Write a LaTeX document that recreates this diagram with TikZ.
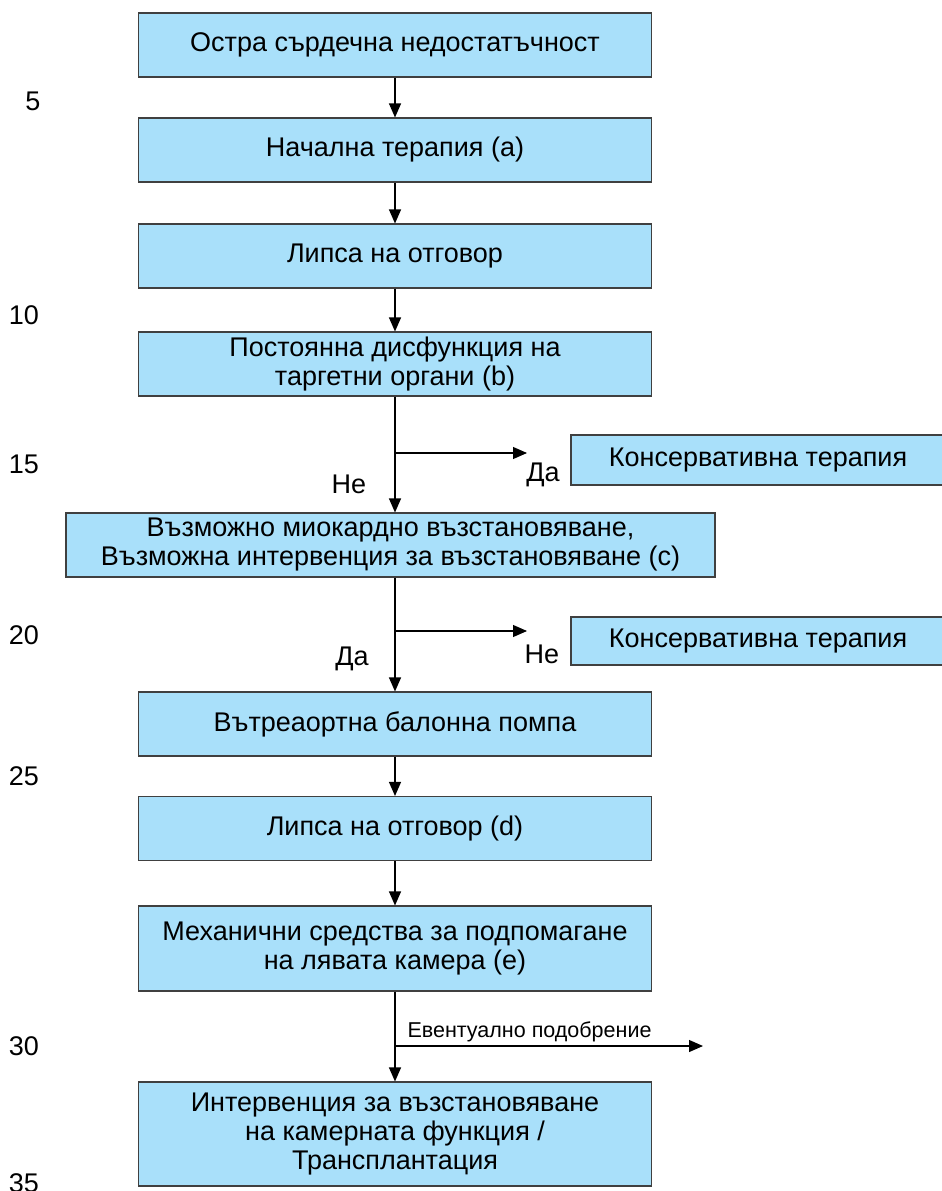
\documentclass[tikz,border=0pt]{standalone}
\usepackage{fontspec}
\setmainfont{Liberation Sans}
\usetikzlibrary{arrows.meta,positioning}
\definecolor{boxblue}{RGB}{169,224,250}

\begin{document}
\begin{tikzpicture}[x=1pt,y=-1pt,node distance=105pt,on grid,line width=1.1pt,
    >={Triangle[length=14pt,width=12pt]},
    box/.style={draw=black!75,fill=boxblue,minimum width=513pt,minimum height=64pt,
                inner sep=0pt,align=center,font=\fontsize{27}{29}\selectfont},
    sidebox/.style={box,minimum width=374pt,minimum height=50pt},
    lbl/.style={font=\fontsize{27}{29}\selectfont,inner sep=0pt}]
    \useasboundingbox (0,0) rectangle (942,1191);
    % main column
    \node[box] (n_1) at (395,45) {Остра сърдечна недостатъчност};
    \node[box] (n_2) [below=of n_1] {Начална терапия (a)};
    \node[box] (n_3) [below=106pt of n_2] {Липса на отговор};
    \node[box] (n_4) [below=108pt of n_3] {Постоянна дисфункция на\\таргетни органи (b)};
    \node[box,minimum width=649pt] (n_6) [below=181pt of n_4,xshift=-4.5pt]
        {Възможно миокардно възстановяване,\\Възможна интервенция за възстановяване (c)};
    \node[box] (n_8) [below=179pt of n_6,xshift=4.5pt] {Вътреаортна балонна помпа};
    \node[box] (n_9) [below=104.5pt of n_8] {Липса на отговор (d)};
    \node[box,minimum height=85pt] (n_10) [below=120pt of n_9]
        {Механични средства за подпомагане\\на лявата камера (e)};
    \node[box,minimum height=104pt] (n_11) [below=185.5pt of n_10]
        {Интервенция за възстановяване\\на камерната функция /\\Трансплантация};
    % side boxes
    \node[sidebox] (s_1) at (758,460) {Консервативна терапия};
    \node[sidebox,minimum height=48pt] (s_2) at (758,641) {Консервативна терапия};
    % branch points
    \coordinate (j_1) at (395,453);
    \coordinate (e_1) at (527,453);
    \coordinate (j_2) at (395,631);
    \coordinate (e_2) at (527,631);
    \coordinate (j_3) at (395,1046);
    \coordinate (e_3) at (703,1046);
    % labels
    \node[lbl] (l_1) at (349,484) {Не};
    \node[lbl] (l_2) at (543,475) {Да};
    \node[lbl] (l_3) at (352,659) {Да};
    \node[lbl] (l_4) at (542,654) {Не};
    \node[lbl,anchor=base west,font=\fontsize{21.5}{24}\selectfont] (l_5) at (407,1037)
        {Евентуално подобрение};
    % line numbers
    \node[lbl] (num_5) at (33,101) {5};
    \node[lbl] (num_10) at (24,315) {10};
    \node[lbl] (num_15) at (24,464) {15};
    \node[lbl] (num_20) at (24,635) {20};
    \node[lbl] (num_25) at (24,776) {25};
    \node[lbl] (num_30) at (24,1046) {30};
    \node[lbl] (num_35) at (24,1183) {35};
    % arrows
    \path[->] (n_1) edge (n_2)
              (n_2) edge (n_3)
              (n_3) edge (n_4)
              (n_4) edge (n_4.south |- n_6.north)
              (n_8.north |- n_6.south) edge (n_8)
              (n_8) edge (n_9)
              (n_9) edge (n_10)
              (n_10) edge (n_11)
              (j_1) edge (e_1)
              (j_2) edge (e_2)
              (j_3) edge (e_3);
\end{tikzpicture}
\end{document}
